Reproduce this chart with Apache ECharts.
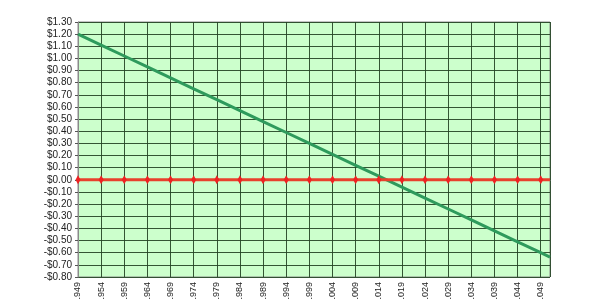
<!DOCTYPE html>
<html><head><meta charset="utf-8">
<script src="https://cdn.jsdelivr.net/npm/echarts@6/dist/echarts.min.js"></script>
<style>html,body{margin:0;padding:0;background:#fff}#c{width:600px;height:300px}</style>
</head><body><div id="c"></div>
<script>
// x positions (price) and values
var xStart = 2.949, xEnd = 3.051;
var tickLabels = ['2.949','2.954','2.959','2.964','2.969','2.974','2.979','2.984','2.989','2.994','2.999','3.004','3.009','3.014','3.019','3.024','3.029','3.034','3.039','3.044','3.049'];
var greenX = [2.949, 2.954, 2.959, 2.964, 2.969, 2.974, 2.979, 2.984, 2.989, 2.994, 2.999, 3.004, 3.009, 3.014, 3.019, 3.024, 3.029, 3.034, 3.039, 3.044, 3.049, 3.051];
var greenY = [1.20, 1.11, 1.02, 0.93, 0.84, 0.75, 0.66, 0.57, 0.48, 0.39, 0.30, 0.21, 0.12, 0.03, -0.06, -0.15, -0.24, -0.33, -0.42, -0.51, -0.60, -0.636];
var redX = [2.949, 2.954, 2.959, 2.964, 2.969, 2.974, 2.979, 2.984, 2.989, 2.994, 2.999, 3.004, 3.009, 3.014, 3.019, 3.024, 3.029, 3.034, 3.039, 3.044, 3.049, 3.051];
var redY = [0, 0, 0, 0, 0, 0, 0, 0, 0, 0, 0, 0, 0, 0, 0, 0, 0, 0, 0, 0, 0, 0];

function off(x){ return Math.round((x - xStart) * 1000); }
var greenData = greenX.map(function(x,i){ return [off(x), greenY[i]]; });
var redData = redX.map(function(x,i){
  var item = {value:[off(x), redY[i]]};
  if (tickLabels.indexOf(x.toFixed(3)) < 0) item.symbol = 'none';
  return item;
});

var chart = echarts.init(document.getElementById('c'), null, {renderer:'canvas'});
chart.setOption({
  animation:false,
  grid:{left:78, right:50, top:22, bottom:23, outerBoundsMode:'none', containLabel:false, show:true, backgroundColor:'#ccffcc', borderColor:'#8a8a8a', borderWidth:1},
  xAxis:{
    type:'value', min:0, max:off(xEnd), interval:5,
    axisLine:{show:true, lineStyle:{color:'#8a8a8a'}},
    axisTick:{show:true, length:3, lineStyle:{color:'#555'}},
    splitLine:{show:true, lineStyle:{color:'#234223', width:1, opacity:0.9}},
    axisLabel:{rotate:90, fontSize:9, color:'#222', fontFamily:'Liberation Sans', margin:5, showMaxLabel:false,
      formatter:function(v){ var i=Math.round(v/5); return (v%5===0 && tickLabels[i]) ? tickLabels[i] : ''; }}
  },
  yAxis:{
    type:'value', min:-0.8, max:1.3, interval:0.1,
    axisLine:{show:true, lineStyle:{color:'#8a8a8a'}},
    axisTick:{show:true, length:3, lineStyle:{color:'#555'}},
    splitLine:{show:true, lineStyle:{color:'#234223', width:1, opacity:0.9}},
    axisLabel:{fontSize:10, color:'#222', fontFamily:'Liberation Sans', margin:6,
      formatter:function(v){ var r=Math.round(v*100)/100; if (Math.abs(r)<1e-9) return '$0.00'; return (r<0?'-$':'$')+Math.abs(r).toFixed(2); }}
  },
  series:[
    {type:'line', data:greenData, showSymbol:false, lineStyle:{color:'#2e9a5c', width:3}, z:3},
    {type:'line', data:redData, symbol:'diamond', symbolSize:[5,9], itemStyle:{color:'#ee2222'}, lineStyle:{color:'#e8402c', width:3}, z:4}
  ]
});
</script></body></html>
